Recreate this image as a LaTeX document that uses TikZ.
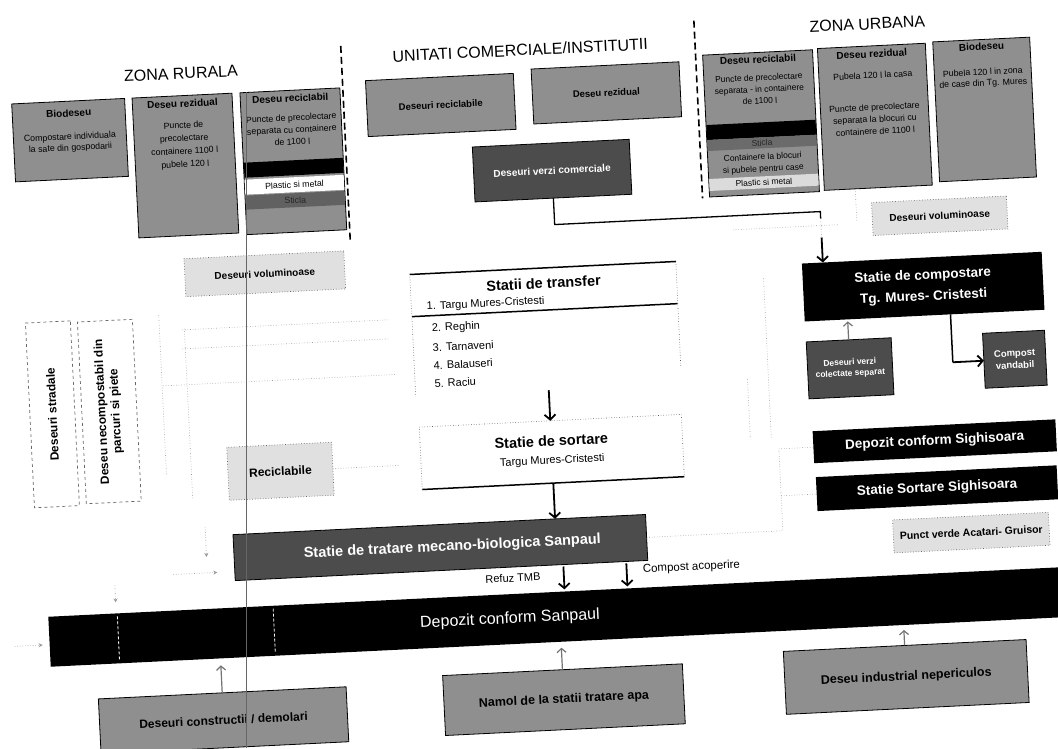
\documentclass[tikz,border=0pt]{standalone}
\usepackage{fontspec}
\setmainfont{Liberation Sans}
\usetikzlibrary{arrows.meta}
\newcommand{\myfs}[2]{\fontsize{#1}{#2}\selectfont}
\begin{document}
\begin{tikzpicture}[x=1pt,y=-1pt,
  bx/.style={draw=black, line width=0.8pt, inner sep=0pt, outer sep=0pt},
  med/.style={bx, fill=black!44},
  dark/.style={bx, fill=black!70, text=white, font=\bfseries\myfs{10}{12}, align=center},
  blk/.style={fill=black, inner sep=0pt, outer sep=0pt, text=white, align=center},
  light/.style={draw=black!60, dotted, line width=0.7pt, fill=black!12, inner sep=0pt, outer sep=0pt, font=\bfseries\myfs{10}{12}},
  hdr/.style={inner sep=0pt, font=\bfseries\myfs{10}{12}},
  body/.style={inner sep=0pt, anchor=north, align=center, font=\myfs{8.8}{11}},
  ztitle/.style={inner sep=0pt, font=\myfs{16}{19}},
  arr/.style={line width=1.8pt, -{Straight Barb[length=5pt,width=11pt]}},
  garr/.style={draw=black!55, line width=1.2pt, -{Straight Barb[length=4pt,width=9pt]}},
  conn/.style={line width=1.3pt},
  faint/.style={draw=black!40, dotted, line width=0.6pt},
  fainta/.style={faint, -{Stealth[length=4pt,width=4pt]}},
  zonedash/.style={line width=1.6pt, dash pattern=on 7pt off 4pt},
  wz/.style={draw=white, line width=0.8pt, dash pattern=on 3pt off 2pt}
]
\useasboundingbox (0,0) rectangle (1058,748);
\fill[white] (0,0) rectangle (1058,748);

\begin{scope}[rotate around={2.8:(529,374)}, transform shape]

% ---------- titles ----------
\node[ztitle] (tR) at (196,57) {ZONA RURALA};
\node[ztitle] (tU) at (536,50) {UNITATI COMERCIALE/INSTITUTII};
\node[ztitle] (tZ) at (884,41) {ZONA URBANA};

% ---------- zone dividers ----------
\coordinate (d1a) at (357,37); \coordinate (d1b) at (357,231);
\coordinate (d2a) at (711,29); \coordinate (d2b) at (711,207);
\draw[zonedash] (d1a) -- (d1b);
\draw[zonedash] (d2a) -- (d2b);

% ---------- rural boxes ----------
\node[med, anchor=north, minimum width=113pt, minimum height=78pt] (bioR) at (82,79) {};
\node[hdr] (bioRh) at (82,91) {Biodeseu};
\node[body] (bioRb) at (82,111) {Compostare individuala\\la sate din gospodarii};

\node[med, anchor=north, minimum width=100pt, minimum height=140pt] (rezR) at (196,79) {};
\node[hdr] (rezRh) at (196,87) {Deseu rezidual};
\node[body, font=\myfs{8.8}{13}] (rezRb) at (196,105) {Puncte de\\precolectare\\containere 1100 l\\pubele 120 l};

\node[med, anchor=north, minimum width=100pt, minimum height=142pt] (recR) at (304,79) {};
\node[hdr] (recRh) at (304,87) {Deseu reciclabil};
\node[body, font=\myfs{8.8}{12}] (recRb) at (304,103) {Puncte de precolectare\\separata cu containere\\de 1100 l};
\fill[black] (254.4,149) rectangle (353.6,164);
\fill[white] (254.4,166) rectangle (353.6,181);
\node[inner sep=0pt, font=\myfs{8.8}{11}] (recRp) at (304,173.5) {Plastic si metal};
\fill[black!62] (254.4,182) rectangle (353.6,196);
\node[inner sep=0pt, font=\myfs{8.8}{11}, text=black!85] (recRs) at (304,189) {Sticla};

% ---------- commercial boxes ----------
\node[med, minimum width=148pt, minimum height=56pt, font=\bfseries\myfs{9.5}{11}] (recU) at (454,101) {Deseuri reciclabile};
\node[med, minimum width=148pt, minimum height=55pt, font=\bfseries\myfs{9.5}{11}] (rezU) at (620,97) {Deseu rezidual};
\node[dark, minimum width=157pt, minimum height=55pt] (verziU) at (562,172) {Deseuri verzi comerciale};

% ---------- urban boxes ----------
\node[med, anchor=north, minimum width=110pt, minimum height=142pt] (recUb) at (773,64) {};
\node[hdr] (recUbh) at (773,71) {Deseu reciclabil};
\node[body, font=\myfs{8.5}{11.5}] (recUbb) at (773,86) {Puncte de precolectare\\separata - in containere\\de 1100 l};
\fill[black] (718.4,134) rectangle (827.6,149);
\fill[black!58] (718.4,149) rectangle (827.6,160);
\node[inner sep=0pt, font=\myfs{8.5}{11}, text=black!85] (recUbs) at (773,154.5) {Sticla};
\node[body, font=\myfs{8.5}{12}] (recUbc) at (773,165) {Containere la blocuri\\si pubele pentru case};
\fill[black!14] (718.4,188) rectangle (827.6,200);
\node[inner sep=0pt, font=\myfs{8.5}{11}] (recUbp) at (773,194) {Plastic si metal};

\node[med, anchor=north, minimum width=108pt, minimum height=142pt] (rezUb) at (887,63) {};
\node[hdr] (rezUbh) at (887,71) {Deseu rezidual};
\node[body] (rezUbb) at (887,89) {Pubela 120 l la casa};
\node[body, font=\myfs{8.8}{12}] (rezUbc) at (887,121) {Puncte de precolectare\\separata la blocuri cu\\containere de 1100 l};

\node[med, anchor=north, minimum width=97pt, minimum height=140pt] (bioUb) at (997,62) {};
\node[hdr] (bioUbh) at (997,69) {Biodeseu};
\node[body] (bioUbb) at (997,91) {Pubela 120 l in zona\\de case din Tg. Mures};

% ---------- voluminoase ----------
\node[light, minimum width=160pt, minimum height=38pt] (volR) at (270,261) {Deseuri voluminoase};
\node[light, minimum width=135pt, minimum height=33pt] (volU) at (947,236) {Deseuri voluminoase};

% ---------- connector commercial green -> compost ----------
\coordinate (k1) at (562,226); \coordinate (k2) at (828,226);
\coordinate (k2b) at (828,233); \coordinate (k3a) at (828,252); \coordinate (k3) at (828,277);
\draw[conn] (verziU.south) -- (k1) -- (k2) -- (k2b);
\draw[faint] (k2b) -- (k3a);
\draw[arr] (k3a) -- (k3);

% ---------- transfer stations ----------
\node[minimum width=266pt, minimum height=122pt, inner sep=0pt] (trans) at (548,330) {};
\coordinate (hl) at (415,311); \coordinate (hr) at (681,311); \coordinate (tr2) at (681,375);
\draw[line width=1.5pt] (trans.north west) -- (trans.north east);
\draw[line width=1.5pt] (hl) -- (hr);
\draw[faint, draw=black!65] (trans.north west) -- (trans.south west);
\draw[faint, draw=black!65] (trans.north east) -- (tr2);
\node[inner sep=0pt, font=\bfseries\myfs{14.5}{17}] (transT) at (548,284) {Statii de transfer};
\node[inner sep=0pt, anchor=west, font=\myfs{11}{13}] (t1) at (430,302) {1. Targu Mures-Cristesti};
\node[inner sep=0pt, anchor=west, font=\myfs{11}{13}] (t2) at (434,324) {2. Reghin};
\node[inner sep=0pt, anchor=west, font=\myfs{11}{13}] (t3) at (434,343) {3. Tarnaveni};
\node[inner sep=0pt, anchor=west, font=\myfs{11}{13}] (t4) at (434,361) {4. Balauseri};
\node[inner sep=0pt, anchor=west, font=\myfs{11}{13}] (t5) at (434,379) {5. Raciu};

% ---------- sorting station ----------
\node[minimum width=262pt, minimum height=62pt, inner sep=0pt] (sort) at (548,453) {};
\draw[faint, draw=black!65] (sort.south west) -- (sort.north west) -- (sort.north east) -- (sort.south east);
\draw[line width=1.5pt] (sort.south west) -- (sort.south east);
\node[inner sep=0pt, font=\bfseries\myfs{14.5}{17}] (sortT) at (548,442) {Statie de sortare};
\node[inner sep=0pt, font=\myfs{11}{13}] (sortS) at (548,462) {Targu Mures-Cristesti};
\draw[arr] (trans.south) -- (sort.north);

% ---------- TMB ----------
\node[dark, minimum width=413pt, minimum height=46pt, font=\bfseries\myfs{14.5}{17}] (tmb) at (432,543) {\hspace*{24pt}Statie de tratare mecano-biologica Sanpaul};
\coordinate (s2) at (548,520);
\draw[arr] (sort.south) -- (s2);
\node[inner sep=0pt, font=\myfs{11}{13}] (refuz) at (503,577) {Refuz TMB};
\node[inner sep=0pt, anchor=west, font=\myfs{11.5}{13}] (compac) at (633,575) {Compost acoperire};

% ---------- Depozit Sanpaul ----------
\node[blk, minimum width=1042pt, minimum height=50pt] (dep) at (558,618) {};
\node[inner sep=0pt, text=white, font=\myfs{16}{19}] (depT) at (498,618) {Depozit conform Sanpaul};
\coordinate (w1a) at (106,596); \coordinate (w1b) at (106,640);
\coordinate (w2a) at (262,596); \coordinate (w2b) at (262,640);
\draw[wz] (w1a) -- (w1b);
\draw[wz] (w2a) -- (w2b);
\coordinate (a1) at (554,568); \coordinate (a1b) at (554,591);
\coordinate (a2) at (617,568); \coordinate (a2b) at (617,591);
\draw[arr] (a1) -- (a1b);
\draw[arr] (a2) -- (a2b);

% ---------- bottom sources ----------
\node[med, minimum width=248pt, minimum height=55pt, font=\bfseries\myfs{12}{14}] (constr) at (207,705) {Deseuri constructii / demolari};
\node[med, minimum width=240pt, minimum height=60pt, font=\bfseries\myfs{12.5}{14}] (namol) at (548,701) {Namol de la statii tratare apa};
\node[med, minimum width=243pt, minimum height=63pt, font=\bfseries\myfs{12.5}{14}] (indus) at (891,695) {Deseu industrial nepericulos};
\coordinate (u1) at (207,650); \coordinate (u2) at (548,649); \coordinate (u3) at (891,648);
\draw[garr] (constr.north) -- (u1);
\draw[garr] (namol.north) -- (u2);
\draw[garr] (indus.north) -- (u3);

% ---------- left side ----------
\node[draw=black!60, dashed, line width=0.7pt, minimum width=45pt, minimum height=185pt, inner sep=0pt] (strad) at (51,391) {};
\node[rotate=90, inner sep=0pt, font=\bfseries\myfs{12}{14}] (stradT) at (51,391) {Deseuri stradale};
\node[draw=black!60, dashed, line width=0.7pt, minimum width=55pt, minimum height=182pt, inner sep=0pt] (necomp) at (108,391) {};
\node[rotate=90, inner sep=0pt, align=center, font=\bfseries\myfs{12}{14}] (necompT) at (108,391) {Deseu necompostabil din\\parcuri si piete};
\node[light, minimum width=105pt, minimum height=53pt, font=\bfseries\myfs{12}{14}] (recic) at (276,459) {Reciclabile};

% ---------- right side ----------
\node[blk, minimum width=240pt, minimum height=58pt, font=\bfseries\myfs{13.5}{21}] (comp) at (927,306) {Statie de compostare\\Tg. Mures- Cristesti};
\node[dark, minimum width=85pt, minimum height=57pt, font=\bfseries\myfs{8.5}{11}] (verziP) at (850,384) {Deseuri verzi\\colectate separat};
\node[dark, minimum width=62pt, minimum height=55pt, font=\bfseries\myfs{9.5}{12}] (vand) at (1015,383) {Compost\\vandabil};
\coordinate (cp1) at (850,337);
\draw[garr] (verziP.north) -- (cp1);
\coordinate (v1) at (953,335); \coordinate (v2) at (953,383);
\draw[line width=1.5pt] (v1) -- (v2);
\draw[arr] (v2) -- (vand.west);
\node[blk, minimum width=243pt, minimum height=32pt, font=\bfseries\myfs{13.5}{16}] (depSig) at (931,461) {Depozit conform Sighisoara};
\node[blk, minimum width=241pt, minimum height=34pt, font=\bfseries\myfs{13.5}{16}] (sortSig) at (931,508) {Statie Sortare Sighisoara};
\node[light, minimum width=156pt, minimum height=33pt, font=\bfseries\myfs{10.5}{12}] (punct) at (963,554) {Punct verde Acatari- Gruisor};

% ---------- faint dotted links ----------
\coordinate (f1a) at (185,313); \coordinate (f1b) at (392,313);
\coordinate (f2a) at (184,332); \coordinate (f2b) at (391,332);
\coordinate (f3a) at (163,368); \coordinate (f3b) at (397,368);
\coordinate (f4a) at (162,297); \coordinate (f4b) at (162,457);
\coordinate (f5a) at (187,312); \coordinate (f5b) at (187,482);
\coordinate (f6b) at (396,459);
\draw[faint] (f1a) -- (f1b);
\draw[faint] (f2a) -- (f2b);
\draw[faint] (f3a) -- (f3b);
\draw[faint] (f4a) -- (f4b);
\draw[faint] (f5a) -- (f5b);
\draw[faint] (recic.east) -- (f6b);
\coordinate (g1) at (775,543); \coordinate (g2) at (775,461);
\coordinate (g3) at (775,508);
\draw[faint] (tmb.east) -- (g1) -- (g2) -- (depSig.west);
\draw[faint] (g3) -- (sortSig.west);
\coordinate (g4a) at (768,290); \coordinate (g4b) at (768,450);
\coordinate (g5a) at (747,390); \coordinate (g5b) at (747,450);
\draw[faint] (g4a) -- (g4b);
\draw[faint] (g5a) -- (g5b);
\coordinate (g6a) at (864,205); \coordinate (g6b) at (864,237);
\draw[faint] (g6a) -- (g6b);
\coordinate (g7a) at (740,240); \coordinate (g7b) at (846,240);
\draw[faint] (g7a) -- (g7b);
\coordinate (h1a) at (2,621); \coordinate (h1b) at (30,621);
\coordinate (h2a) at (105,565); \coordinate (h2b) at (105,582);
\coordinate (h3a) at (164,557); \coordinate (h3b) at (208,557);
\coordinate (h4a) at (198,511); \coordinate (h4b) at (198,541);
\draw[fainta] (h1a) -- (h1b);
\draw[fainta] (h2a) -- (h2b);
\draw[fainta] (h3a) -- (h3b);
\draw[fainta] (h4a) -- (h4b);
\end{scope}

% scan fold line (not rotated)
\coordinate (sc1) at (246,92); \coordinate (sc2) at (246,748);
\draw[black!60, line width=0.7pt] (sc1) -- (sc2);
\end{tikzpicture}
\end{document}
